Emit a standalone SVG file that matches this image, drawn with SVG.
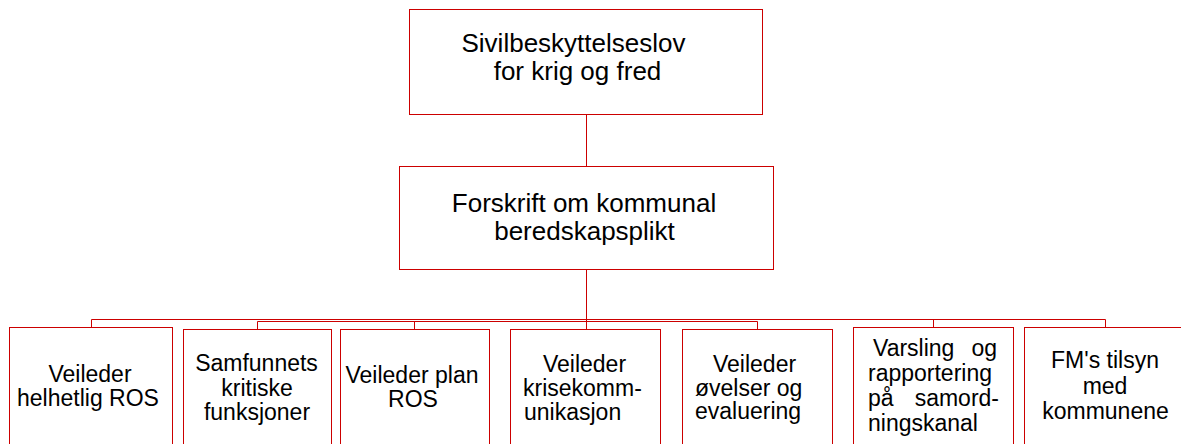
<svg xmlns="http://www.w3.org/2000/svg" width="1181" height="444" viewBox="0 0 1181 444">
<style>
.box{fill:#ffffff;stroke:#cc0000;stroke-width:1}
.ln{fill:none;stroke:#cc0000;stroke-width:1}
.t{font-family:"Liberation Sans",Arial,sans-serif;fill:#000000}
.big{font-size:26px}
.sm{font-size:23px}
.c{text-anchor:middle}
.e{text-anchor:end}
</style>
<rect width="1181" height="444" fill="#ffffff"/>
<g id="connectors">
<path class="ln" d="M586.5,114.5V166.5"/>
<path class="ln" d="M586.5,269.5V329.5"/>
<path class="ln" d="M91.5,327.5V319.5H1105.5V327.5"/>
<path class="ln" d="M933.5,319.5V327.5"/>
<path class="ln" d="M257.5,329.5V321.5H757.5V329.5"/>
<path class="ln" d="M414.5,321.5V329.5"/>
</g>
<g id="n-sivil">
<rect class="box" x="409.5" y="9.5" width="353" height="105"/>
<text class="t big c" x="573.5" y="52">Sivilbeskyttelseslov</text>
<text class="t big c" x="577.5" y="80">for krig og fred</text>
</g>
<g id="n-forskrift">
<rect class="box" x="399.5" y="166.5" width="374" height="103"/>
<text class="t big c" x="584" y="212">Forskrift om kommunal</text>
<text class="t big c" x="584.5" y="240">beredskapsplikt</text>
</g>
<g id="n-ros">
<rect class="box" x="9.5" y="327.5" width="163" height="130"/>
<text class="t sm c" x="90" y="382">Veileder</text>
<text class="t sm c" x="88" y="406">helhetlig ROS</text>
</g>
<g id="n-samf">
<rect class="box" x="183.5" y="329.5" width="148" height="130"/>
<text class="t sm c" x="256.5" y="371">Samfunnets</text>
<text class="t sm c" x="257" y="396">kritiske</text>
<text class="t sm c" x="257" y="420">funksjoner</text>
</g>
<g id="n-plan">
<rect class="box" x="340.5" y="329.5" width="149" height="130"/>
<text class="t sm c" x="412" y="383">Veileder plan</text>
<text class="t sm c" x="413" y="407">ROS</text>
</g>
<g id="n-krise">
<rect class="box" x="510.5" y="329.5" width="150" height="130"/>
<text class="t sm c" x="584.5" y="372">Veileder</text>
<text class="t sm" x="523" y="396">krisekomm-</text>
<text class="t sm" x="524" y="420">unikasjon</text>
</g>
<g id="n-ovelse">
<rect class="box" x="682.5" y="329.5" width="150" height="130"/>
<text class="t sm" x="713" y="372">Veileder</text>
<text class="t sm" x="695" y="395.5">øvelser og</text>
<text class="t sm" x="695" y="419">evaluering</text>
</g>
<g id="n-varsling">
<rect class="box" x="853.5" y="327.5" width="160" height="130"/>
<text class="t sm" y="356"><tspan x="873">Varsling</tspan><tspan x="997" class="e"> og</tspan></text>
<text class="t sm" x="868" y="381">rapportering</text>
<text class="t sm" y="406"><tspan x="868">på</tspan><tspan x="999" class="e"> samord-</tspan></text>
<text class="t sm" x="868" y="431">ningskanal</text>
</g>
<g id="n-fm">
<rect class="box" x="1024.5" y="327.5" width="162" height="130"/>
<text class="t sm c" x="1105" y="368">FM's tilsyn</text>
<text class="t sm c" x="1105" y="393.5">med</text>
<text class="t sm c" x="1105.5" y="419">kommunene</text>
</g>
</svg>
